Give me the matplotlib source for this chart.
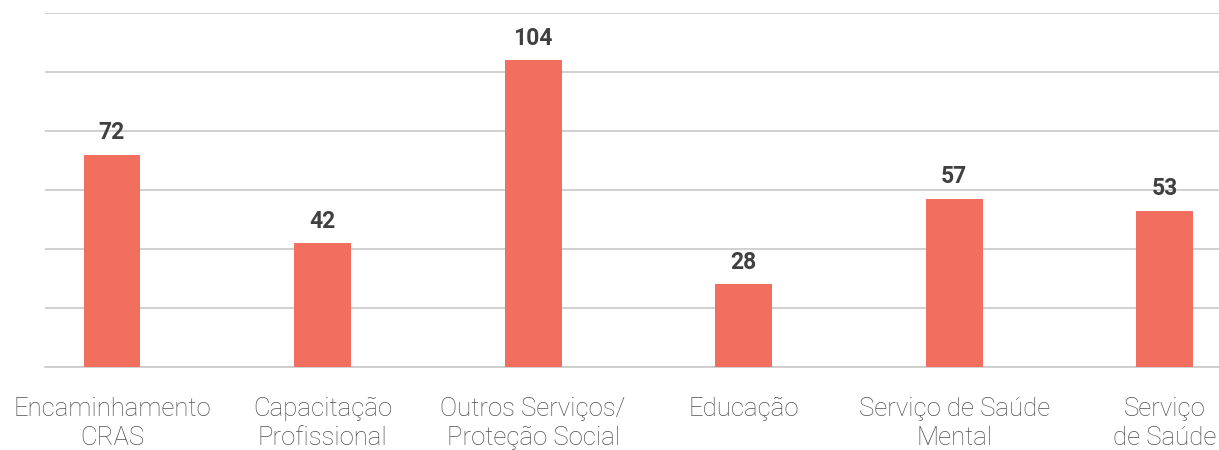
import matplotlib
matplotlib.use("Agg")
import matplotlib.pyplot as plt

categories = ["Encaminhamento\nCRAS", "Capacitação\nProfissional", "Outros Serviços/\nProteção Social",
              "Educação", "Serviço de Saúde\nMental", "Serviço\nde Saúde"]
values = [72, 42, 104, 28, 57, 53]
yticks = [0, 20, 40, 60, 80, 100, 120]

fig = plt.figure(figsize=(12.19, 4.5), dpi=100)
ax = fig.add_axes([45/1219, 1 - 367/450, (1219-45)/1219, (367-13)/450])
x = list(range(len(categories)))
ax.bar(x, values, width=0.27, color="#F26F5F", zorder=3)
ax.set_ylim(0, 120)
ax.set_xlim(-0.318, 5.257)
ax.set_yticks(yticks)
ax.yaxis.grid(True, color="#C8C8C8", linewidth=1.2, zorder=0)
ax.tick_params(axis="y", left=False, labelleft=False)
ax.tick_params(axis="x", bottom=False, pad=18)
for s in ["top", "right", "left"]:
    ax.spines[s].set_visible(False)
ax.spines["bottom"].set_color("#C8C8C8")
ax.spines["bottom"].set_linewidth(1.2)
ax.set_xticks(x)
ax.set_xticklabels(categories, fontsize=18.5, color="#505050", family="Roboto",
                   fontweight="light", linespacing=1.28)
for xi, v in zip(x, values):
    ax.annotate(str(v), (xi, v), xytext=(0, 7.5), textcoords="offset points",
                ha="center", va="bottom", fontsize=16.5, fontweight="bold",
                color="#404040", family="Roboto")
fig.savefig("out.png", dpi=100)
